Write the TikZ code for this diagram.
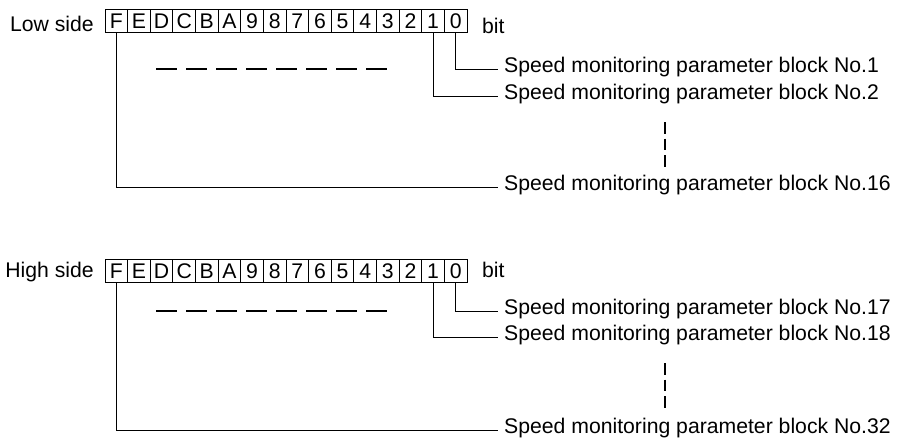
\documentclass[tikz,border=0pt]{standalone}
\usepackage{fontspec}
\setmainfont{Liberation Sans}
\begin{document}
\begin{tikzpicture}[x=1pt,y=-1pt,
  every node/.style={font=\fontsize{21.2}{24}\selectfont},
  cell/.style={draw,line width=1pt,minimum width=22.625pt,minimum height=23pt,inner sep=0pt},
  conn/.style={line width=1pt},
  lbl/.style={anchor=west,inner xsep=6pt,inner ysep=0pt,text height=0.716em,text depth=0pt},
  hdots/.style={line width=1.8pt,dash pattern=on 20.7pt off 9.3pt},
  vdots/.style={line width=1.3pt,dash pattern=on 11.7pt off 5pt}]
\useasboundingbox (0,0) rectangle (907,439);
% Low side
\node[anchor=base east,inner sep=0pt] (lowlbl) at (94,31) {Low side};
\foreach \b/\t in {15/F,14/E,13/D,12/C,11/B,10/A,9/9,8/8,7/7,6/6,5/5,4/4,3/3,2/2,1/1,0/0}
  \node[cell] (L\b) at ({105+(15.5-\b)*22.625},21) {\t};
\node[anchor=base west,inner sep=0pt] (lowbit) at (482,33) {bit};
\node[lbl] (n1) at (498,69) {Speed monitoring parameter block No.1};
\node[lbl] (n2) at (498,96) {Speed monitoring parameter block No.2};
\node[lbl] (n16) at (498,187) {Speed monitoring parameter block No.16};
\draw[conn] (L0.south) |- (n1.west);
\draw[conn] (L1.south) |- (n2.west);
\draw[conn] (L15.south) |- (n16.west);
\draw[hdots] (156,69) -- (388,69);
\draw[vdots] (665,122) -- (665,167);
% High side
\node[anchor=base east,inner sep=0pt] (highlbl) at (94,277) {High side};
\foreach \b/\t in {15/F,14/E,13/D,12/C,11/B,10/A,9/9,8/8,7/7,6/6,5/5,4/4,3/3,2/2,1/1,0/0}
  \node[cell] (H\b) at ({105+(15.5-\b)*22.625},271) {\t};
\node[anchor=base west,inner sep=0pt] (highbit) at (482,277) {bit};
\node[lbl] (n17) at (498,311) {Speed monitoring parameter block No.17};
\node[lbl] (n18) at (498,337) {Speed monitoring parameter block No.18};
\node[lbl] (n32) at (498,430) {Speed monitoring parameter block No.32};
\draw[conn] (H0.south) |- (n17.west);
\draw[conn] (H1.south) |- (n18.west);
\draw[conn] (H15.south) |- (n32.west);
\draw[hdots] (156,311) -- (388,311);
\draw[vdots] (665,363) -- (665,408);
\end{tikzpicture}
\end{document}
